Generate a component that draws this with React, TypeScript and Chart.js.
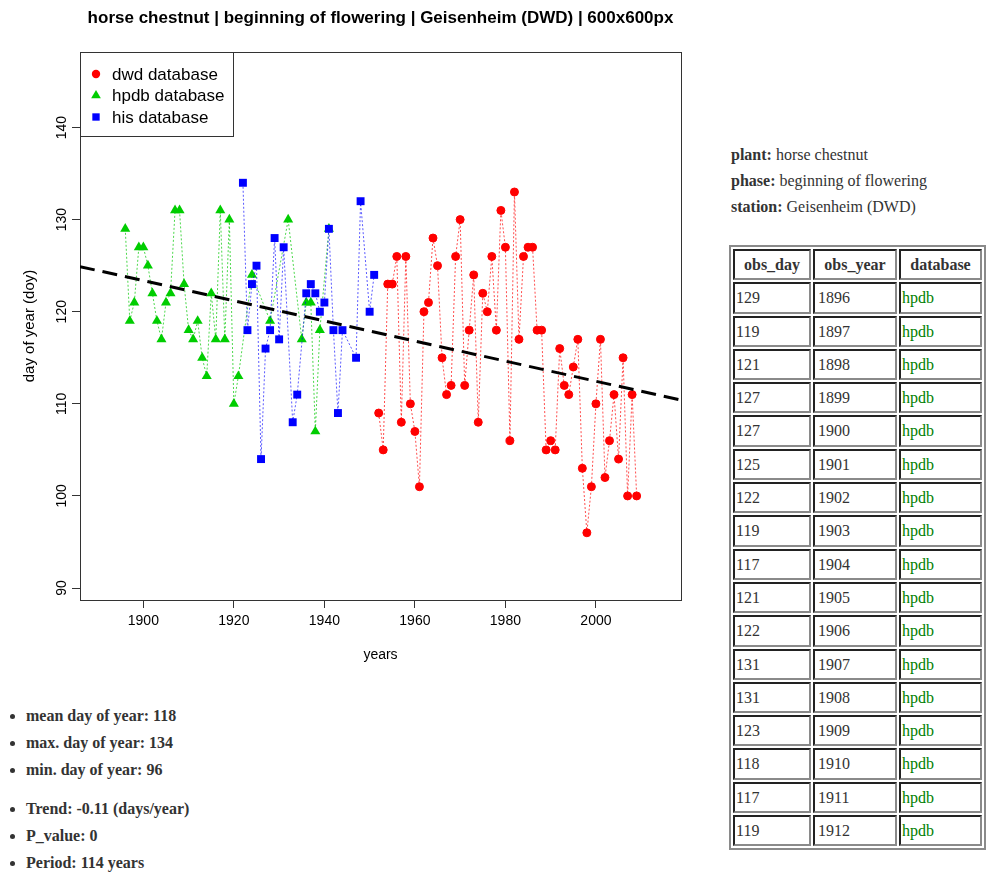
import React, { useEffect, useRef } from 'react';
import { Chart, registerables } from 'chart.js';

Chart.register(...registerables);

// ---- data ----
const dwdYears = [1952, 1953, 1954, 1955, 1956, 1957, 1958, 1959, 1960, 1961, 1962, 1963, 1964, 1965, 1966, 1967, 1968, 1969, 1970, 1971, 1972, 1973, 1974, 1975, 1976, 1977, 1978, 1979, 1980, 1981, 1982, 1983, 1984, 1985, 1986, 1987, 1988, 1989, 1990, 1991, 1992, 1993, 1994, 1995, 1996, 1997, 1998, 1999, 2000, 2001, 2002, 2003, 2004, 2005, 2006, 2007, 2008, 2009];
const dwdDays = [109, 105, 123, 123, 126, 108, 126, 110, 107, 101, 120, 121, 128, 125, 115, 111, 112, 126, 130, 112, 118, 124, 108, 122, 120, 126, 118, 131, 127, 106, 133, 117, 126, 127, 127, 118, 118, 105, 106, 105, 116, 112, 111, 114, 117, 103, 96, 101, 110, 117, 102, 106, 111, 104, 115, 100, 111, 100];

const hpdbYears = [1896, 1897, 1898, 1899, 1900, 1901, 1902, 1903, 1904, 1905, 1906, 1907, 1908, 1909, 1910, 1911, 1912, 1913, 1914, 1915, 1916, 1917, 1918, 1919, 1920, 1921, 1924, 1928, 1932, 1935, 1936, 1937, 1938, 1939, 1941];
const hpdbDays = [129, 119, 121, 127, 127, 125, 122, 119, 117, 121, 122, 131, 131, 123, 118, 117, 119, 115, 113, 122, 117, 131, 117, 130, 110, 113, 124, 119, 130, 117, 121, 121, 107, 118, 129];

const hisYears = [1922, 1923, 1924, 1925, 1926, 1927, 1928, 1929, 1930, 1931, 1933, 1934, 1936, 1937, 1938, 1939, 1940, 1941, 1942, 1943, 1944, 1947, 1948, 1950, 1951];
const hisDays = [134, 118, 123, 125, 104, 116, 118, 128, 117, 127, 108, 111, 122, 123, 122, 120, 121, 129, 118, 109, 118, 115, 132, 120, 124];

const trendYears = [1886, 2018.8];
const trendDays = [124.9, 110.4];

const xTicks = [1900, 1920, 1940, 1960, 1980, 2000];
const yTicks = [90, 100, 110, 120, 130, 140];
const xRange = [1886, 2018.8];
const yRange = [88.7, 148.2];

const chartTitle = 'horse chestnut | beginning of flowering | Geisenheim (DWD) | 600x600px';
const xTitle = 'years';
const yTitle = 'day of year (doy)';
const seriesLabels = ['dwd database', 'hpdb database', 'his database'];
const trendLabel = 'trend';

const tableHeaders = ['obs_day', 'obs_year', 'database'];
const tableRowCount = 17;
const tableDb = 'hpdb';

const infoLines: [string, string][] = [
  ['plant:', 'horse chestnut'],
  ['phase:', 'beginning of flowering'],
  ['station:', 'Geisenheim (DWD)'],
];
const statsA = ['mean day of year: 118', 'max. day of year: 134', 'min. day of year: 96'];
const statsB = ['Trend: -0.11 (days/year)', 'P_value: 0', 'Period: 114 years'];

// ---- helpers ----
const SANS = "'Liberation Sans', Arial, Helvetica, sans-serif";
const SERIF = "'Liberation Serif', 'Times New Roman', Times, serif";

const toXY = (xs: number[], ys: number[]) => xs.map((x, i) => ({ x, y: ys[i] }));

function drawSymbol(ctx: CanvasRenderingContext2D, style: string, x: number, y: number, r: number, color: string) {
  ctx.save();
  ctx.fillStyle = color;
  ctx.beginPath();
  if (style === 'circle') {
    ctx.arc(x, y, r, 0, Math.PI * 2);
  } else if (style === 'triangle') {
    ctx.moveTo(x, y - r);
    ctx.lineTo(x + r * 0.866, y + r * 0.5);
    ctx.lineTo(x - r * 0.866, y + r * 0.5);
    ctx.closePath();
  } else {
    const s = r * Math.SQRT1_2;
    ctx.rect(x - s, y - s, 2 * s, 2 * s);
  }
  ctx.fill();
  ctx.restore();
}

const boxPlugin = {
  id: 'rbox',
  beforeDatasetsDraw(chart: any) {
    const { ctx, chartArea: a } = chart;
    ctx.save();
    ctx.strokeStyle = '#333';
    ctx.lineWidth = 1;
    ctx.strokeRect(Math.round(a.left) + 0.5, Math.round(a.top) + 0.5, Math.round(a.right - a.left), Math.round(a.bottom - a.top));
    ctx.restore();
  },
};

const legendPlugin = {
  id: 'rlegend',
  afterDatasetsDraw(chart: any) {
    const { ctx, chartArea: a } = chart;
    const items = chart.data.datasets.filter((d: any) => d.label !== trendLabel);
    const boxW = 153;
    const boxH = 84;
    ctx.save();
    ctx.fillStyle = '#fff';
    ctx.fillRect(a.left, a.top, boxW, boxH);
    ctx.strokeStyle = '#333';
    ctx.lineWidth = 1;
    ctx.strokeRect(Math.round(a.left) + 0.5, Math.round(a.top) + 0.5, boxW, boxH);
    ctx.font = `17px ${SANS}`;
    ctx.textBaseline = 'middle';
    ctx.textAlign = 'left';
    items.forEach((d: any, i: number) => {
      const y = a.top + 22 + i * 21.5;
      drawSymbol(ctx, d.pointStyle, a.left + 16, y, d.legendRadius, d.pointBackgroundColor);
      ctx.fillStyle = '#000';
      ctx.fillText(d.label, a.left + 32, y + 1);
    });
    ctx.restore();
  },
};

export default function App() {
  const ref = useRef<HTMLCanvasElement>(null);

  useEffect(() => {
    if (!ref.current) return;
    const tickFont = { family: SANS, size: 14 };
    const chart = new Chart(ref.current, {
      type: 'scatter',
      data: {
        datasets: [
          {
            label: seriesLabels[0],
            data: toXY(dwdYears, dwdDays),
            showLine: true,
            borderColor: 'rgba(255,0,0,0.7)',
            borderWidth: 1,
            borderDash: [2, 2],
            pointStyle: 'circle',
            pointRadius: 4,
            pointBorderWidth: 1,
            pointBackgroundColor: '#ff0000',
            pointBorderColor: '#ff0000',
            legendRadius: 4.2,
            order: 3,
          } as any,
          {
            label: seriesLabels[1],
            data: toXY(hpdbYears, hpdbDays),
            showLine: true,
            borderColor: 'rgba(0,200,0,0.7)',
            borderWidth: 1,
            borderDash: [2, 2],
            pointStyle: 'triangle',
            pointRadius: 5.8,
            pointBorderWidth: 0,
            pointBackgroundColor: '#00cd00',
            pointBorderColor: '#00cd00',
            legendRadius: 5.6,
            order: 2,
          } as any,
          {
            label: seriesLabels[2],
            data: toXY(hisYears, hisDays),
            showLine: true,
            borderColor: 'rgba(0,0,255,0.65)',
            borderWidth: 1,
            borderDash: [2, 2],
            pointStyle: 'rect',
            pointRadius: 5.6,
            pointBorderWidth: 0,
            pointBackgroundColor: '#0000ff',
            pointBorderColor: '#0000ff',
            legendRadius: 5.2,
            order: 1,
          } as any,
          {
            label: trendLabel,
            data: toXY(trendYears, trendDays),
            showLine: true,
            borderColor: '#000',
            borderWidth: 3,
            borderDash: [15, 8],
            pointRadius: 0,
            order: 0,
          } as any,
        ],
      },
      options: {
        responsive: false,
        animation: false,
        events: [],
        layout: { padding: { left: 0, right: 19, top: 0, bottom: 0 } },
        plugins: {
          legend: { display: false },
          tooltip: { enabled: false },
          title: {
            display: true,
            text: chartTitle,
            fullSize: false,
            color: '#000',
            font: { family: SANS, size: 17, weight: 'bold', lineHeight: 1.2 },
            padding: { top: 8, bottom: 23.6 },
          },
        },
        scales: {
          x: {
            type: 'linear',
            min: xRange[0],
            max: xRange[1],
            afterBuildTicks: (s: any) => {
              s.ticks = xTicks.map((v) => ({ value: v }));
            },
            afterFit: (s: any) => {
              s.height = 80;
            },
            grid: { drawOnChartArea: false, drawTicks: true, tickLength: 8, color: '#333', tickColor: '#333' },
            border: { display: true, color: '#333', width: 1 },
            ticks: {
              font: tickFont,
              color: '#000',
              padding: 5,
              maxRotation: 0,
              autoSkip: false,
              callback: (v: any) => String(v),
            },
            title: {
              display: true,
              text: xTitle,
              color: '#000',
              font: { family: SANS, size: 14 },
              padding: { top: 0, bottom: 16 },
            },
          },
          y: {
            type: 'linear',
            min: yRange[0],
            max: yRange[1],
            afterBuildTicks: (s: any) => {
              s.ticks = yTicks.map((v) => ({ value: v }));
            },
            afterFit: (s: any) => {
              s.width = 80;
            },
            grid: { drawOnChartArea: false, drawTicks: true, tickLength: 8, color: '#333', tickColor: '#333' },
            border: { display: true, color: '#333', width: 1 },
            ticks: {
              font: tickFont,
              color: '#000',
              padding: -2,
              minRotation: 90,
              maxRotation: 90,
              crossAlign: 'center',
              autoSkip: false,
              callback: (v: any) => String(v),
            },
            title: {
              display: true,
              text: yTitle,
              color: '#000',
              font: { family: SANS, size: 15 },
              padding: { top: 21, bottom: 0 },
            },
          },
        },
      } as any,
      plugins: [boxPlugin, legendPlugin],
    });
    return () => chart.destroy();
  }, []);

  const textColor = '#333';
  const cellBase: React.CSSProperties = {
    borderTop: '2px solid #222',
    borderLeft: '2px solid #222',
    borderBottom: '2px solid #8a8a8a',
    borderRight: '2px solid #8a8a8a',
    padding: '4px 1px',
    lineHeight: '19.3px',
    textAlign: 'left',
    verticalAlign: 'middle',
    boxSizing: 'border-box',
    whiteSpace: 'nowrap',
  };
  const colW = [78, 84, 83];

  return (
    <div style={{ position: 'absolute', left: 0, top: 0, width: 986, height: 874, overflow: 'hidden', fontFamily: SERIF, fontSize: 16, color: textColor }}>
      <canvas ref={ref} width={700} height={680} style={{ position: 'absolute', left: 0, top: 0, width: 700, height: 680 }} />

      <div style={{ position: 'absolute', left: 731, top: 142, lineHeight: '26px' }}>
        {infoLines.map(([k, v]) => (
          <div key={k}>
            <b>{k}</b> {v}
          </div>
        ))}
      </div>

      <table
        style={{
          position: 'absolute',
          left: 729,
          top: 245,
          borderCollapse: 'separate',
          borderSpacing: 2,
          border: '2px solid #8a8a8a',
          tableLayout: 'fixed',
          width: 257,
          fontFamily: SERIF,
          fontSize: 16,
          color: textColor,
        }}
      >
        <colgroup>
          {colW.map((w, i) => (
            <col key={i} style={{ width: w }} />
          ))}
        </colgroup>
        <thead>
          <tr>
            {tableHeaders.map((h) => (
              <th key={h} style={{ ...cellBase, textAlign: 'center', fontWeight: 'bold' }}>
                {h}
              </th>
            ))}
          </tr>
        </thead>
        <tbody>
          {hpdbYears.slice(0, tableRowCount).map((yr, i) => (
            <tr key={yr}>
              <td style={cellBase}>{hpdbDays[i]}</td>
              <td style={{ ...cellBase, paddingLeft: 3 }}>{yr}</td>
              <td style={{ ...cellBase, color: 'green' }}>{tableDb}</td>
            </tr>
          ))}
        </tbody>
      </table>

      <ul style={{ position: 'absolute', left: 8, top: 701.5, margin: 0, paddingLeft: 18, listStyle: 'disc', fontWeight: 'bold', lineHeight: '27px' }}>
        {statsA.map((s) => (
          <li key={s}>{s}</li>
        ))}
      </ul>
      <ul style={{ position: 'absolute', left: 8, top: 794.5, margin: 0, paddingLeft: 18, listStyle: 'disc', fontWeight: 'bold', lineHeight: '27px' }}>
        {statsB.map((s) => (
          <li key={s}>{s}</li>
        ))}
      </ul>
    </div>
  );
}
